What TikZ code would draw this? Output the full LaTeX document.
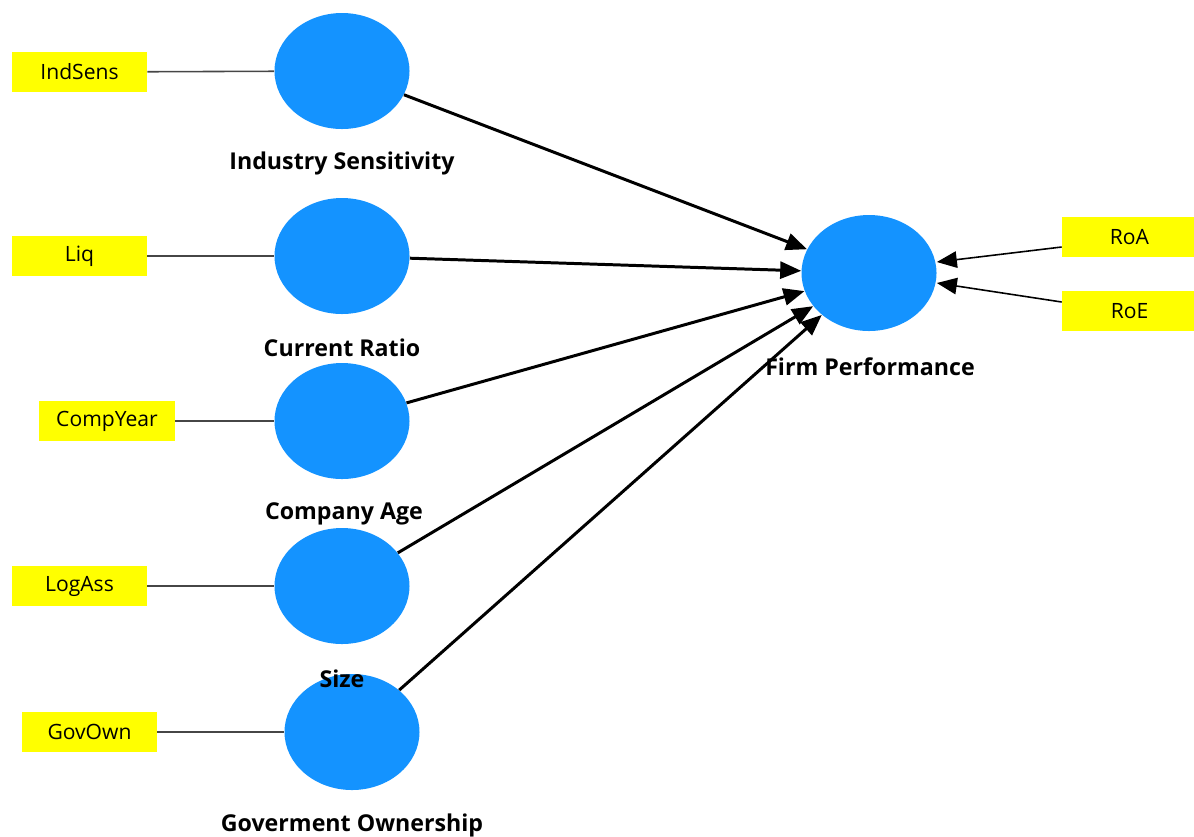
\documentclass[tikz,border=0pt]{standalone}
\usepackage{fontspec}
\setmainfont{Open Sans}
\usetikzlibrary{arrows.meta,shapes.geometric,positioning}

\definecolor{lvblue}{RGB}{20,147,255}
\definecolor{mvyellow}{RGB}{255,255,0}
\definecolor{mvline}{RGB}{70,70,70}

\begin{document}
\begin{tikzpicture}[
	x=0.2mm, y=-0.2mm,
	lv/.style={ellipse, fill=lvblue, minimum width=2.7cm, minimum height=2.32cm, inner sep=0pt},
	mv/.style={rectangle, fill=mvyellow, minimum width=2.7cm, minimum height=0.8cm, inner sep=0pt, font=\fontsize{12}{14}\selectfont},
	lvname/.style={font=\fontsize{13.2}{15}\selectfont\bfseries, inner sep=0pt},
	path/.style={draw, line width=1.7pt, -{Triangle[length=4.2mm, width=3.4mm]}},
	outer/.style={draw=mvline, line width=0.9pt},
	inner/.style={draw=black, line width=0.9pt, -{Triangle[length=4mm, width=3.3mm]}}
	]
	\useasboundingbox (0,0) rectangle (1194,836);

	% exogenous constructs
	\node[lv] (is) at (342,71) {};
	\node[lv] (cr) at (342,256) {};
	\node[lv] (ca) at (342,421) {};
	\node[lv] (sz) at (342,586) {};
	\node[lv] (go) at (352,732) {};
	\node[lv] (fp) at (869,273) {};

	\node[lvname] (isname) at (342,163) {Industry Sensitivity};
	\node[lvname] (crname) at (342,348) {Current Ratio};
	\node[lvname] (caname) at (344,514) {Company Age};
	\node[lvname] (szname) at (342,679) {Size};
	\node[lvname] (goname) at (352,825) {Goverment Ownership};
	\node[lvname] (fpname) at (870,367) {Firm Performance};

	% indicators
	\node[mv] (indsens) at (79.5,72) {IndSens};
	\node[mv] (liq) at (79.5,256) {Liq};
	\node[mv] (compyear) at (107,421) {CompYear};
	\node[mv] (logass) at (79.5,586) {LogAss};
	\node[mv] (govown) at (89.5,732) {GovOwn};
	\node[mv] (roa) at (1129.5,237) {RoA};
	\node[mv] (roe) at (1129.5,311) {RoE};

	\draw[outer] (indsens) -- (is);
	\draw[outer] (liq) -- (cr);
	\draw[outer] (compyear) -- (ca);
	\draw[outer] (logass) -- (sz);
	\draw[outer] (govown) -- (go);

	\draw[inner] ([yshift=-0.2cm]roa.west) -- ([yshift=0.22cm]fp.east);
	\draw[inner] ([yshift=0.18cm]roe.west) -- ([yshift=-0.2cm]fp.east);

	% structural paths
	\foreach \src in {is,cr,ca,sz,go}
		\draw[path] (\src) -- (fp);
\end{tikzpicture}
\end{document}
